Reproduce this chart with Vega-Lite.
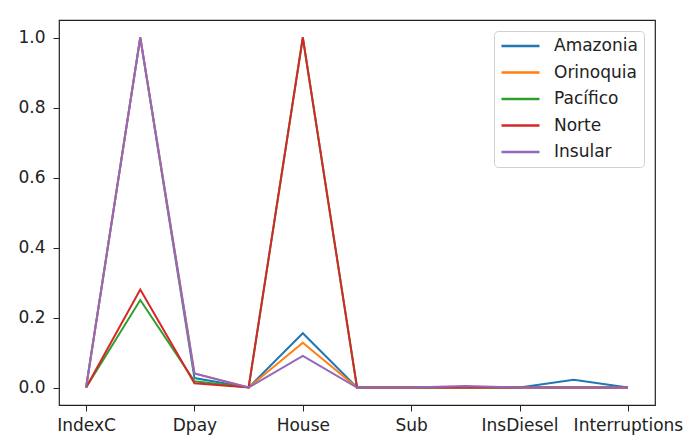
{
  "$schema": "https://vega.github.io/schema/vega-lite/v6.json",
  "width": 596,
  "height": 385,
  "autosize": "none",
  "padding": {"left": 59, "top": 20, "right": 40, "bottom": 38},
  "background": "white",
  "config": {
    "font": "DejaVu Sans",
    "view": {"stroke": "#222", "strokeWidth": 1.2},
    "axis": {"grid": false, "domain": false, "tickColor": "#222", "tickSize": 6, "labelColor": "#222", "labelFontSize": 17, "labelFont": "DejaVu Sans", "title": null}
  },
  "data": {"values": [
    {"region": "Amazonia", "pos": 0, "value": 0},
    {"region": "Amazonia", "pos": 1, "value": 1.0},
    {"region": "Amazonia", "pos": 2, "value": 0.027},
    {"region": "Amazonia", "pos": 3, "value": 0},
    {"region": "Amazonia", "pos": 4, "value": 0.155},
    {"region": "Amazonia", "pos": 5, "value": 0},
    {"region": "Amazonia", "pos": 6, "value": 0},
    {"region": "Amazonia", "pos": 7, "value": 0},
    {"region": "Amazonia", "pos": 8, "value": 0},
    {"region": "Amazonia", "pos": 9, "value": 0.022},
    {"region": "Amazonia", "pos": 10, "value": 0},
    {"region": "Orinoquia", "pos": 0, "value": 0},
    {"region": "Orinoquia", "pos": 1, "value": 1.0},
    {"region": "Orinoquia", "pos": 2, "value": 0.04},
    {"region": "Orinoquia", "pos": 3, "value": 0},
    {"region": "Orinoquia", "pos": 4, "value": 0.128},
    {"region": "Orinoquia", "pos": 5, "value": 0},
    {"region": "Orinoquia", "pos": 6, "value": 0},
    {"region": "Orinoquia", "pos": 7, "value": 0},
    {"region": "Orinoquia", "pos": 8, "value": 0},
    {"region": "Orinoquia", "pos": 9, "value": 0},
    {"region": "Orinoquia", "pos": 10, "value": 0},
    {"region": "Pacífico", "pos": 0, "value": 0},
    {"region": "Pacífico", "pos": 1, "value": 0.25},
    {"region": "Pacífico", "pos": 2, "value": 0.018},
    {"region": "Pacífico", "pos": 3, "value": 0},
    {"region": "Pacífico", "pos": 4, "value": 1.0},
    {"region": "Pacífico", "pos": 5, "value": 0},
    {"region": "Pacífico", "pos": 6, "value": 0},
    {"region": "Pacífico", "pos": 7, "value": 0},
    {"region": "Pacífico", "pos": 8, "value": 0},
    {"region": "Pacífico", "pos": 9, "value": 0},
    {"region": "Pacífico", "pos": 10, "value": 0},
    {"region": "Norte", "pos": 0, "value": 0},
    {"region": "Norte", "pos": 1, "value": 0.28},
    {"region": "Norte", "pos": 2, "value": 0.012},
    {"region": "Norte", "pos": 3, "value": 0},
    {"region": "Norte", "pos": 4, "value": 1.0},
    {"region": "Norte", "pos": 5, "value": 0},
    {"region": "Norte", "pos": 6, "value": 0},
    {"region": "Norte", "pos": 7, "value": 0},
    {"region": "Norte", "pos": 8, "value": 0},
    {"region": "Norte", "pos": 9, "value": 0},
    {"region": "Norte", "pos": 10, "value": 0},
    {"region": "Insular", "pos": 0, "value": 0},
    {"region": "Insular", "pos": 1, "value": 1.0},
    {"region": "Insular", "pos": 2, "value": 0.04},
    {"region": "Insular", "pos": 3, "value": 0},
    {"region": "Insular", "pos": 4, "value": 0.09},
    {"region": "Insular", "pos": 5, "value": 0},
    {"region": "Insular", "pos": 6, "value": 0},
    {"region": "Insular", "pos": 7, "value": 0.004},
    {"region": "Insular", "pos": 8, "value": 0},
    {"region": "Insular", "pos": 9, "value": 0},
    {"region": "Insular", "pos": 10, "value": 0}
  ]},
  "mark": {"type": "line", "strokeWidth": 2},
  "encoding": {
    "x": {
      "field": "pos", "type": "quantitative",
      "scale": {"domain": [-0.5, 10.5], "nice": false, "zero": false},
      "axis": {"values": [0, 2, 4, 6, 8, 10], "labelPadding": 6, "labelFlush": false,
        "labelExpr": "['IndexC','','Dpay','','House','','Sub','','InsDiesel','','Interruptions'][datum.value]"}
    },
    "y": {
      "field": "value", "type": "quantitative",
      "scale": {"domain": [-0.05, 1.05], "nice": false, "zero": false},
      "axis": {"values": [0, 0.2, 0.4, 0.6, 0.8, 1.0], "format": ".1f", "labelPadding": 8, "labelFlush": false}
    },
    "color": {
      "field": "region", "type": "nominal",
      "sort": ["Amazonia", "Orinoquia", "Pacífico", "Norte", "Insular"],
      "scale": {"domain": ["Amazonia", "Orinoquia", "Pacífico", "Norte", "Insular"], "range": ["#1f77b4", "#ff7f0e", "#2ca02c", "#d62728", "#9467bd"]},
      "legend": {
        "title": null, "orient": "top-right", "offset": 11,
        "symbolType": "stroke", "symbolSize": 1444, "symbolStrokeWidth": 2.5, "symbolOffset": 0,
        "labelFontSize": 17, "labelColor": "#222", "labelOffset": 13,
        "clipHeight": 18, "rowPadding": 8.5, "padding": 6, "strokeColor": "#d0d0d0", "fillColor": "white", "cornerRadius": 4
      }
    }
  }
}
